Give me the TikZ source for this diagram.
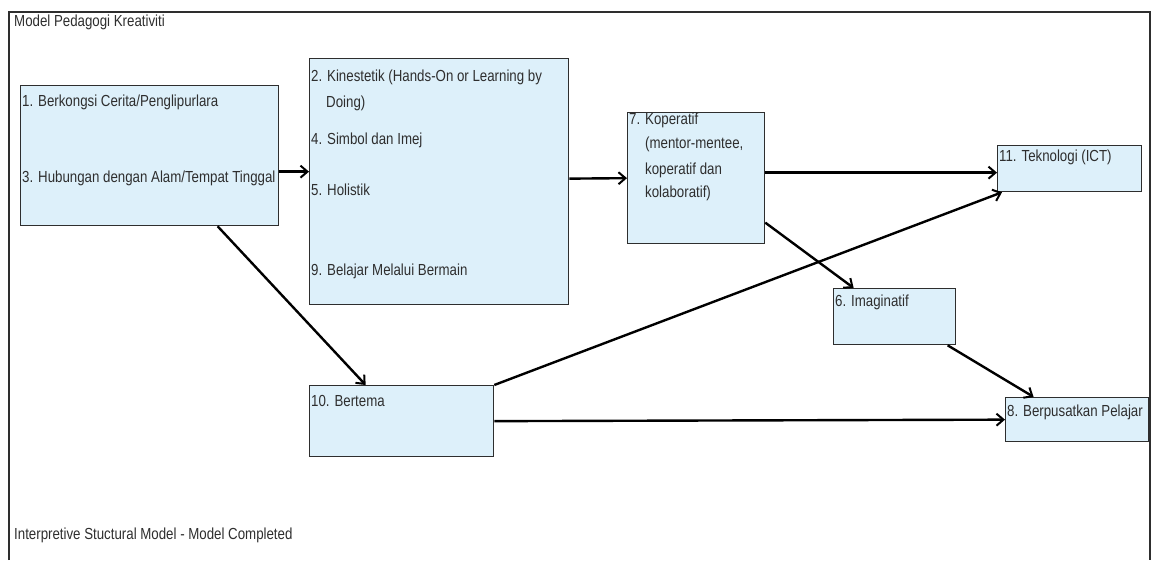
\documentclass[tikz,border=0pt]{standalone}
\usepackage{fontspec}
\setmainfont{Liberation Sans}[FakeStretch=0.83]
\usetikzlibrary{arrows.meta}
\definecolor{boxfill}{HTML}{DDF0FA}
\definecolor{inkgray}{HTML}{2E2E2E}

\begin{document}
\begin{tikzpicture}[x=1pt, y=1pt,
    ismbox/.style={draw=inkgray, line width=1.3pt, fill=boxfill, inner sep=0pt, anchor=north west},
    ismtext/.style={anchor=west, inner sep=0pt, text=inkgray, font=\fontsize{16}{18}\selectfont},
    ismarrow/.style={line width=2.4pt, -{Straight Barb[length=7pt, width=12pt, line width=2pt]}}]

    \useasboundingbox (0,0) rectangle (1152,560);

    % bingkai luar
    \draw[inkgray, line width=2pt] (9,0) -- (9,548) -- (1150,548) -- (1150,0);

    % --------------------------
    % kotak-kotak elemen
    % --------------------------
    \node[ismbox, minimum width=258, minimum height=140] (cerita) at (20,475) {};
    \node[ismbox, minimum width=259, minimum height=246] (kinestetik) at (309,502) {};
    \node[ismbox, minimum width=137, minimum height=131] (koperatif) at (627,448) {};
    \node[ismbox, minimum width=144, minimum height=46] (teknologi) at (997,415) {};
    \node[ismbox, minimum width=122, minimum height=56] (imaginatif) at (833,272) {};
    \node[ismbox, minimum width=143, minimum height=44] (pelajar) at (1005,163) {};
    \node[ismbox, minimum width=184, minimum height=71] (bertema) at (309,175) {};

    % --------------------------
    % teks
    % --------------------------
    \node[ismtext] (tajuk) at (14,538) {Model Pedagogi Kreativiti};
    \node[ismtext] (nota) at (14,25) {Interpretive Stuctural Model - Model Completed};

    \node[ismtext] (t1) at (22,458) {1. Berkongsi Cerita/Penglipurlara};
    \node[ismtext] (t3) at (22,382) {3. Hubungan dengan Alam/Tempat Tinggal};

    \node[ismtext] (t2) at (311,483) {2. Kinestetik (Hands-On or Learning by};
    \node[ismtext] (t2b) at (326,457) {Doing)};
    \node[ismtext] (t4) at (311,420) {4. Simbol dan Imej};
    \node[ismtext] (t5) at (311,370) {5. Holistik};
    \node[ismtext] (t9) at (311,289) {9. Belajar Melalui Bermain};

    \node[ismtext] (t7) at (629,440) {7. Koperatif};
    \node[ismtext] (t7b) at (645,416) {(mentor-mentee,};
    \node[ismtext] (t7c) at (645,390) {koperatif dan};
    \node[ismtext] (t7d) at (645,367) {kolaboratif)};

    \node[ismtext] (t11) at (999,403) {11. Teknologi (ICT)};
    \node[ismtext] (t6) at (835,258) {6. Imaginatif};
    \node[ismtext] (t8) at (1007,148) {8. Berpusatkan Pelajar};
    \node[ismtext] (t10) at (311,159) {10. Bertema};

    % --------------------------
    % anak panah
    % --------------------------
    \draw[ismarrow] ([yshift=-16]cerita.east) -- ([yshift=10]kinestetik.west);
    \draw[ismarrow] ([yshift=3]kinestetik.east) -- (koperatif.west);
    \draw[ismarrow] ([yshift=5.5]koperatif.east) -- ([yshift=-4]teknologi.west);
    \draw[ismarrow] ([yshift=-44.5]koperatif.east) -- ([xshift=-41]imaginatif.north);
    \draw[ismarrow] ([xshift=68]cerita.south) -- ([xshift=-36]bertema.north);
    \draw[ismarrow] (bertema.north east) -- ([xshift=5]teknologi.south west);
    \draw[ismarrow] (bertema.east) -- (pelajar.west);
    \draw[ismarrow] ([xshift=53]imaginatif.south) -- ([xshift=-43.5]pelajar.north);

\end{tikzpicture}
\end{document}
